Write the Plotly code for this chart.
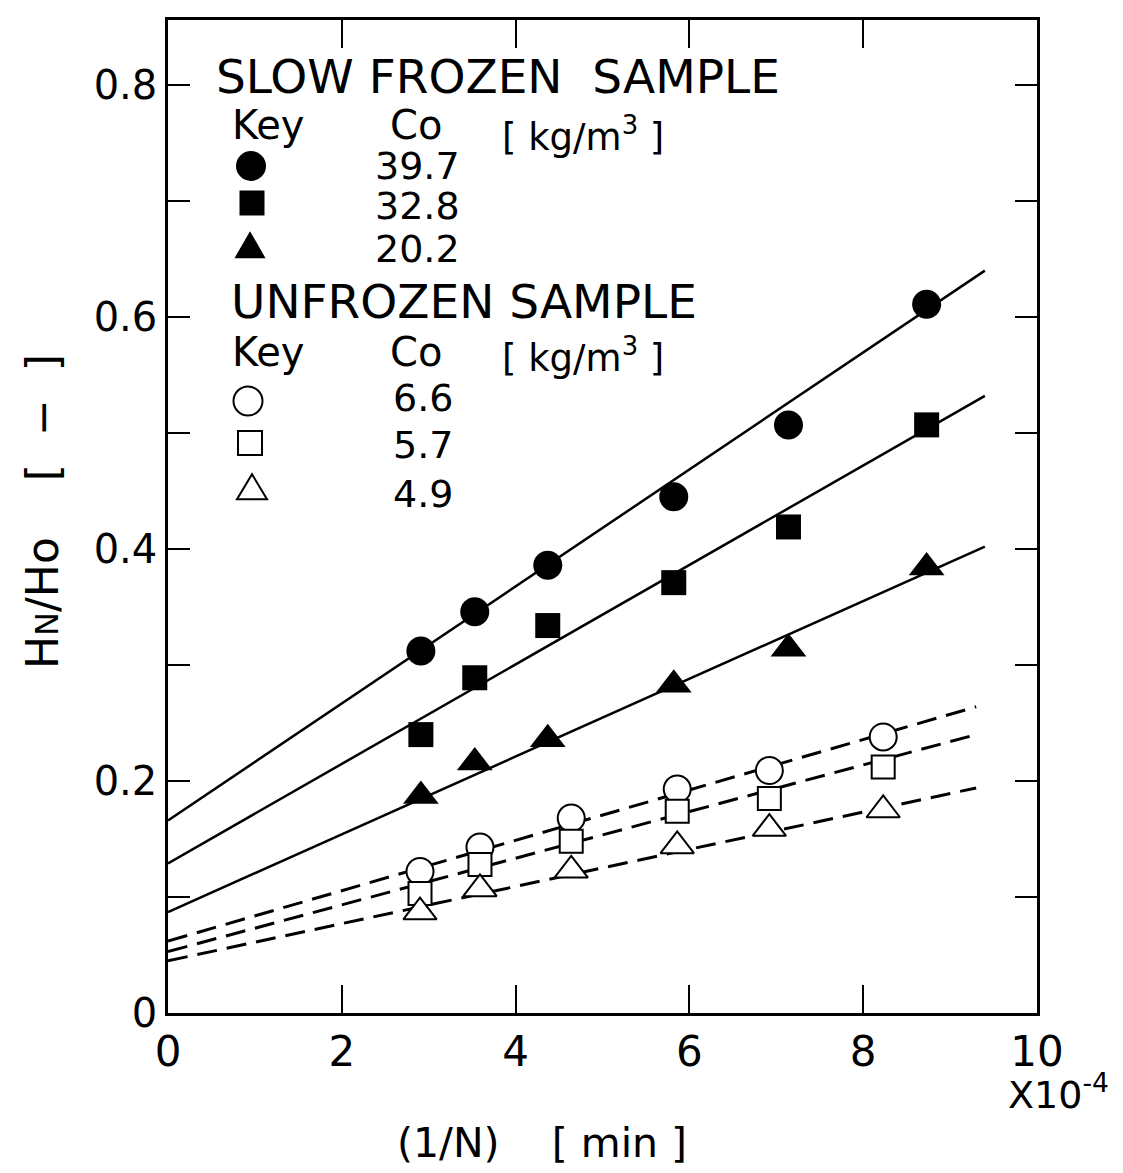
import plotly.graph_objects as go

# ---------------- data ----------------
x_frozen = [2.91, 3.53, 4.37, 5.82, 7.14, 8.73]
sf_397 = [0.312, 0.346, 0.386, 0.445, 0.507, 0.611]
sf_328 = [0.240, 0.289, 0.334, 0.371, 0.419, 0.507]
sf_202 = [0.187, 0.216, 0.236, 0.283, 0.314, 0.384]

x_unfrozen = [2.90, 3.59, 4.64, 5.86, 6.92, 8.23]
uf_66 = [0.122, 0.143, 0.168, 0.193, 0.209, 0.238]
uf_57 = [0.103, 0.128, 0.148, 0.174, 0.185, 0.212]
uf_49 = [0.087, 0.107, 0.123, 0.144, 0.159, 0.175]

# fitted straight lines (end points)
fit_x_solid = [0.0, 9.4]
fit_397 = [0.166, 0.640]
fit_328 = [0.129, 0.532]
fit_202 = [0.087, 0.402]
fit_x_dash = [0.0, 9.3]
fit_66 = [0.062, 0.264]
fit_57 = [0.053, 0.240]
fit_49 = [0.045, 0.194]

x_ticks = [0, 2, 4, 6, 8, 10]
y_ticks = [0, 0.2, 0.4, 0.6, 0.8]
y_ticktext = ["0", "0.2", "0.4", "0.6", "0.8"]
y_minor_ticks = [0.1, 0.3, 0.5, 0.7]

# ---------------- layout constants ----------------
W, H = 1123, 1173
ML, MR, MT, MB = 168, 86, 20, 160
PW, PH = W - ML - MR, H - MT - MB
FONT = "DejaVu Sans"
BLACK = "#000000"


def px(xp):
    return (xp - ML) / PW


def py(yp):
    return (H - MB - yp) / PH


fig = go.Figure()

# fitted lines
for fy in (fit_397, fit_328, fit_202):
    fig.add_trace(go.Scatter(x=fit_x_solid, y=fy, mode="lines",
                             line=dict(color=BLACK, width=2.5),
                             showlegend=False, hoverinfo="skip"))
for fy in (fit_66, fit_57, fit_49):
    fig.add_trace(go.Scatter(x=fit_x_dash, y=fy, mode="lines",
                             line=dict(color=BLACK, width=3, dash="20px,10px"),
                             showlegend=False, hoverinfo="skip"))

# filled markers
fig.add_trace(go.Scatter(x=x_frozen, y=sf_397, mode="markers",
                         marker=dict(symbol="circle", size=29, color=BLACK, line=dict(width=0)),
                         showlegend=False))
fig.add_trace(go.Scatter(x=x_frozen, y=sf_328, mode="markers",
                         marker=dict(symbol="square", size=25, color=BLACK, line=dict(width=0)),
                         showlegend=False))
fig.add_trace(go.Scatter(x=x_frozen, y=sf_202, mode="markers",
                         marker=dict(symbol="triangle-up", size=31, color=BLACK, line=dict(width=0)),
                         showlegend=False))

# open markers
fig.add_trace(go.Scatter(x=x_unfrozen, y=uf_66, mode="markers",
                         marker=dict(symbol="circle", size=27, color="white",
                                     line=dict(width=2, color=BLACK)),
                         showlegend=False))
fig.add_trace(go.Scatter(x=x_unfrozen, y=uf_57, mode="markers",
                         marker=dict(symbol="square", size=23, color="white",
                                     line=dict(width=2, color=BLACK)),
                         showlegend=False))
fig.add_trace(go.Scatter(x=x_unfrozen, y=uf_49, mode="markers",
                         marker=dict(symbol="triangle-up", size=29, color="white",
                                     line=dict(width=2, color=BLACK)),
                         showlegend=False))

annotations = []


def text(t, xp, yp, size, xanchor="left", yanchor="middle", angle=0):
    annotations.append(dict(text=t, x=px(xp), y=py(yp), xref="paper", yref="paper",
                            xanchor=xanchor, yanchor=yanchor, showarrow=False,
                            textangle=angle,
                            font=dict(family=FONT, size=size, color=BLACK)))


# legend text
text("SLOW FROZEN  SAMPLE", 214, 76, 47)
text("Key", 230, 125, 40)
text("Co", 388, 125, 40)
text("[ kg/m<sup>3</sup> ]", 500, 134, 37)
text("39.7", 462, 166, 38, xanchor="right")
text("32.8", 462, 206, 38, xanchor="right")
text("20.2", 462, 249, 38, xanchor="right")
text("UNFROZEN SAMPLE", 229, 302, 47)
text("Key", 230, 352, 40)
text("Co", 388, 352, 40)
text("[ kg/m<sup>3</sup> ]", 500, 356, 37)
text("6.6", 455, 398, 38, xanchor="right")
text("5.7", 455, 445, 38, xanchor="right")
text("4.9", 455, 494, 38, xanchor="right")

# axis titles
text("(1/N)    [ min ]", 542, 1143, 41, xanchor="center")
text("X10<sup>-4</sup>", 1058, 1092, 38, xanchor="center")
text("H<span style='font-size:32px'>N</span>/Ho    [  −  ]", 42, 512, 44,
     xanchor="center", angle=-90)

# legend key symbols (shapes sized in pixels)
shapes = []


def circ(cx, cy, d, filled):
    shapes.append(dict(type="circle", xref="paper", yref="paper",
                       xsizemode="pixel", ysizemode="pixel",
                       xanchor=px(cx), yanchor=py(cy),
                       x0=-d / 2, x1=d / 2, y0=-d / 2, y1=d / 2,
                       fillcolor=BLACK if filled else "white",
                       line=dict(color=BLACK, width=0 if filled else 2)))


def sq(cx, cy, s, filled):
    shapes.append(dict(type="rect", xref="paper", yref="paper",
                       xsizemode="pixel", ysizemode="pixel",
                       xanchor=px(cx), yanchor=py(cy),
                       x0=-s / 2, x1=s / 2, y0=-s / 2, y1=s / 2,
                       fillcolor=BLACK if filled else "white",
                       line=dict(color=BLACK, width=0 if filled else 2)))


def tri(cx, cy, w, h, filled):
    path = f"M {-w/2},{-h*0.45} L {w/2},{-h*0.45} L 0,{h*0.55} Z"
    shapes.append(dict(type="path", xref="paper", yref="paper",
                       xsizemode="pixel", ysizemode="pixel",
                       xanchor=px(cx), yanchor=py(cy), path=path,
                       fillcolor=BLACK if filled else "white",
                       line=dict(color=BLACK, width=0 if filled else 2)))


circ(251, 166, 30, True)
sq(252, 203, 25, True)
tri(250, 246, 31, 27, True)
circ(248, 401, 29, False)
sq(250, 443, 24, False)
tri(252, 488, 30, 25, False)

fig.update_layout(
    width=W, height=H,
    margin=dict(l=ML, r=MR, t=MT, b=MB, pad=0),
    paper_bgcolor="white", plot_bgcolor="white",
    font=dict(family=FONT, color=BLACK),
    showlegend=False,
    annotations=annotations,
    shapes=shapes,
    xaxis=dict(range=[0, 10], tickvals=x_ticks, ticktext=[str(v) for v in x_ticks],
               ticks="inside", ticklen=28, tickwidth=2, tickcolor=BLACK,
               showline=True, linewidth=2.5, linecolor=BLACK, mirror="ticks",
               showgrid=False, zeroline=False,
               tickfont=dict(family=FONT, size=42, color=BLACK),
               ticklabelstandoff=0),
    yaxis=dict(range=[0, PH / 1160.0], tickvals=y_ticks, ticktext=y_ticktext,
               ticks="inside", ticklen=22, tickwidth=2, tickcolor=BLACK,
               minor=dict(tickvals=y_minor_ticks, ticks="inside", ticklen=22,
                          tickwidth=2, tickcolor=BLACK, showgrid=False),
               showline=True, linewidth=2.5, linecolor=BLACK, mirror="ticks",
               showgrid=False, zeroline=False,
               tickfont=dict(family=FONT, size=40, color=BLACK),
               ticklabelstandoff=0),
)

fig.write_html("out.html")
